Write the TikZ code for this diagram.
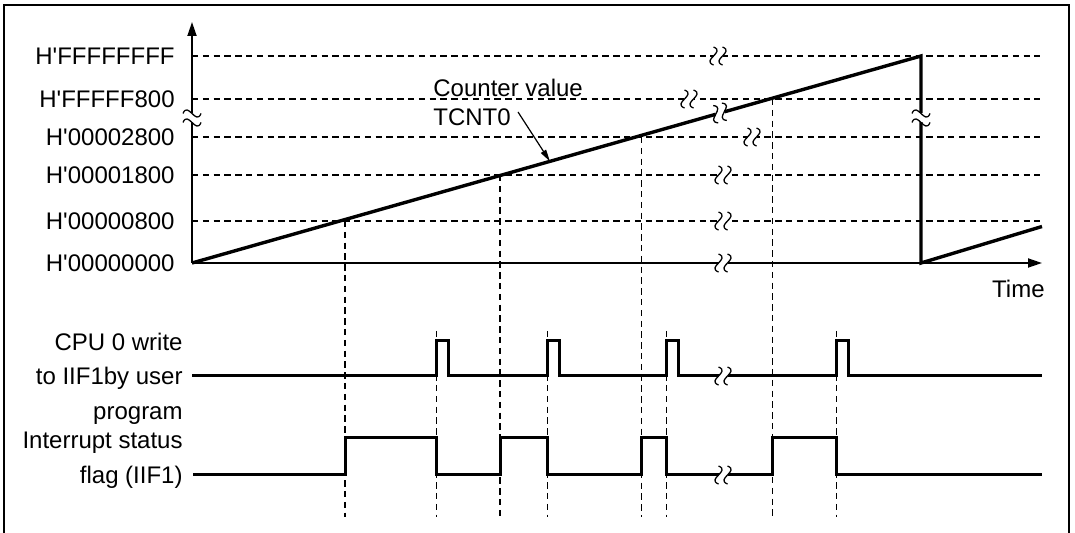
\documentclass[tikz,border=0pt]{standalone}
\usepackage{fontspec}
\newfontfamily\lblfont{Liberation Sans}
\usetikzlibrary{arrows.meta,positioning,calc}

\tikzset{
  lbl/.style={font=\lblfont\fontsize{12}{14}\selectfont, inner sep=0pt},
  gridline/.style={line width=0.6pt, dash pattern=on 3.2pt off 2.2pt},
  axisline/.style={line width=0.9pt},
  wave/.style={line width=1.5pt},
  brk/.pic={
    \fill[white] (-4.5,-4) rectangle (4.5,4);
    \draw[line width=0.65pt] (-4.5,-9) .. controls (8,-4) and (-17,4) .. (-4.5,9);
    \draw[line width=0.65pt] (4.5,-9) .. controls (17,-4) and (-8,4) .. (4.5,9);
  }
}

\begin{document}
\begin{tikzpicture}[x=0.5pt, y=-0.5pt, >={Triangle[length=7pt,width=4.5pt]}]
  \useasboundingbox (0,0) rectangle (1075,533);
  % Frame
  \draw[line width=1.2pt] (4,540) -- (4,5) -- (1069,5) -- (1069,540);

  % Define axis points
  \coordinate (O) at (192,263);
  \coordinate (yFF) at (192,56);
  \coordinate (yF8) at (192,99);
  \coordinate (y28) at (192,137);
  \coordinate (y18) at (192,175);
  \coordinate (y08) at (192,221);
  \coordinate (xend) at (1042,263);
  \coordinate (yend) at (192,22);
  \coordinate (top) at (921,56);

  % Value labels
  \node (hFF) [lbl, left=8.5pt of yFF] {H'FFFFFFFF};
  \node (hF8) [lbl, left=8.5pt of yF8] {H'FFFFF800};
  \node (h28) [lbl, left=8.5pt of y28] {H'00002800};
  \node (h18) [lbl, left=8.5pt of y18] {H'00001800};
  \node (h08) [lbl, left=8.5pt of y08] {H'00000800};
  \node (h00) [lbl, left=8.5pt of O] {H'00000000};
  \node (tm) [lbl, below left=8.5pt and -1.5pt of xend] {Time};

  % Dashed levels
  \draw[gridline] (yFF) -- (1040,56);
  \draw[gridline] (yF8) -- (1040,99);
  \draw[gridline] (y28) -- (1040,137);
  \draw[gridline] (y18) -- (1040,175);
  \draw[gridline] (y08) -- (1040,221);

  % Time markers
  \draw[gridline] (345,221) -- (345,517);
  \draw[gridline] (500,175) -- (500,517);
  \draw[gridline] (641.5,137) -- (641.5,517);
  \draw[gridline] (772.5,99) -- (772.5,517);
  \foreach \x in {436.7,547.7,666.5,836.7}
    \draw[gridline] (\x,331) -- (\x,517);

  % Axes
  \draw[axisline,->] (O) -- (yend);
  \draw[axisline,->] (O) -- (xend);

  % Counter value
  \draw[line width=1.7pt] (O) -- (top) -- (921,263) -- (1042,226.5);
  \node (cnt) [lbl, align=left, font=\lblfont\fontsize{12}{14.5}\selectfont,
    anchor=west] at (433,102) {Counter value\\TCNT0};
  \coordinate (tail) at (518,112);
  \coordinate (tip) at ($(O)!0.491!(top)$);
  \draw[line width=0.6pt, -{Triangle[length=6pt,width=3pt]}] (tail) -- (tip);

  % Signals
  \node (cpu) [lbl, align=right, font=\lblfont\fontsize{12}{17.25}\selectfont,
    anchor=east] at (183,378.5) {CPU 0 write\\to IIF1by user\\program};
  \node (iif) [lbl, align=right, font=\lblfont\fontsize{12}{17.5}\selectfont,
    anchor=east] at (183,460.7) {Interrupt status\\flag (IIF1)};
  \draw[wave] (192,376) -- (436.7,376) -- ++(0,-35) -- ++(11.5,0) -- ++(0,35)
    -- (547.7,376) -- ++(0,-35) -- ++(11.5,0) -- ++(0,35)
    -- (666.5,376) -- ++(0,-35) -- ++(11.5,0) -- ++(0,35)
    -- (836.7,376) -- ++(0,-35) -- ++(11.5,0) -- ++(0,35) -- (1042,376);
  \draw[wave] (193,475) -- (345,475) |- (436.7,437.5) |- (500,475)
    |- (547.7,437.5) |- (641.5,475) |- (666.5,437.5) |- (772.5,475)
    |- (836.7,437.5) |- (1042,475);

  % Breaks
  \foreach \x/\y in {718/56,689/99,752/137,723/175,723/221,723/263,723/376,723/475}
    \pic at (\x,\y) {brk};
  \pic[rotate=15.85] at (720,113) {brk};
  \pic[rotate=90] at (192,118) {brk};
  \pic[rotate=90] at (921,118) {brk};
\end{tikzpicture}
\end{document}
